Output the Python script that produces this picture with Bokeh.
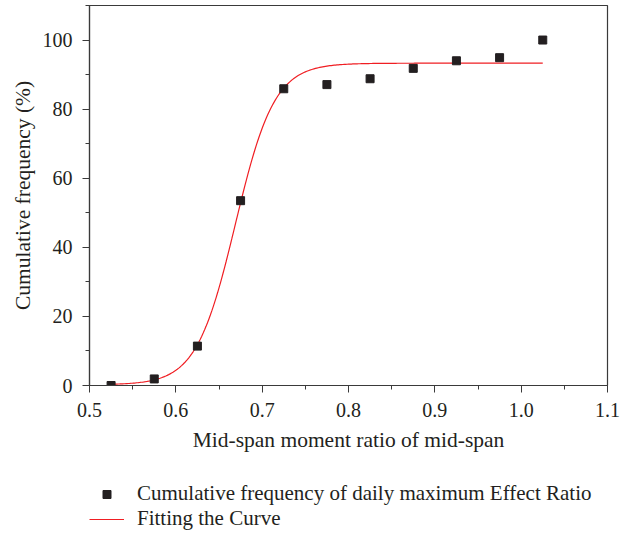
import numpy as np
from bokeh.plotting import figure
from bokeh.layouts import column
from bokeh.models import Range1d, Legend, LegendItem, FixedTicker, PrintfTickFormatter
from bokeh.embed import file_html
from bokeh.resources import INLINE

# Data
ratio_x = [0.525, 0.575, 0.625, 0.675, 0.725, 0.775, 0.825, 0.875, 0.925, 0.975, 1.025]
cum_freq = [0.0, 1.9, 11.4, 53.5, 85.9, 87.1, 88.8, 91.8, 94.0, 94.9, 100.0]

# Boltzmann fit parameters (estimated from the drawn fitting curve)
fit_A1 = 0.2
fit_A2 = 93.3
fit_x0 = 0.669
fit_dx = 0.0226
fit_start = 0.525
fit_end = 1.025

x_ticks = [0.5, 0.6, 0.7, 0.8, 0.9, 1.0, 1.1]
x_minor = [0.55, 0.65, 0.75, 0.85, 0.95, 1.05]
y_ticks = [0, 20, 40, 60, 80, 100]
y_minor = [10, 30, 50, 70, 90, 110]

series_labels = ["Cumulative frequency of daily maximum Effect Ratio", "Fitting the Curve"]

fx = np.linspace(fit_start, fit_end, 301)
fy = fit_A2 + (fit_A1 - fit_A2) / (1 + np.exp((fx - fit_x0) / fit_dx))

FONT = "Liberation Serif"
TXT = "#231f20"
AX = "#3a3a3a"
RED = "#f01e23"

p = figure(width=630, height=470, output_backend="svg", toolbar_location=None,
           x_range=Range1d(0.5, 1.1), y_range=Range1d(0, 110),
           min_border_left=89, min_border_right=23, min_border_top=5, min_border_bottom=85)

p.grid.visible = False
p.outline_line_color = AX
p.outline_line_width = 1.2
p.background_fill_color = "white"
p.border_fill_color = "white"

p.xaxis.ticker = FixedTicker(ticks=x_ticks, minor_ticks=x_minor)
p.yaxis.ticker = FixedTicker(ticks=y_ticks, minor_ticks=y_minor)
p.xaxis.formatter = PrintfTickFormatter(format="%.1f")
p.xaxis.axis_label = "Mid-span moment ratio of mid-span"
p.yaxis.axis_label = "Cumulative frequency (%)"

for ax in (p.xaxis, p.yaxis):
    ax.axis_line_color = AX
    ax.axis_line_width = 1.2
    ax.major_tick_line_color = AX
    ax.minor_tick_line_color = AX
    ax.major_tick_out = 7
    ax.major_tick_in = 0
    ax.minor_tick_out = 4
    ax.minor_tick_in = 0
    ax.major_label_text_font = FONT
    ax.major_label_text_font_size = "20px"
    ax.major_label_text_color = TXT
    ax.axis_label_text_font = FONT
    ax.axis_label_text_font_size = "21.5px"
    ax.axis_label_text_font_style = "normal"
    ax.axis_label_text_color = TXT

p.xaxis.major_label_standoff = 10
p.xaxis.axis_label_standoff = 8
p.yaxis.major_label_standoff = 10
p.yaxis.axis_label_standoff = 5

p.line(fx, fy, line_color=RED, line_width=1.2)
p.scatter(ratio_x, cum_freq, marker="square", size=8,
          fill_color=TXT, line_color=TXT)

# Legend panel below the chart (its frame is aligned with the chart's frame)
pl = figure(width=630, height=63, output_backend="svg", toolbar_location=None,
            x_range=Range1d(0, 1), y_range=Range1d(0, 1),
            x_axis_location=None, y_axis_location=None, min_border=0)
pl.grid.visible = False
pl.outline_line_color = None
pl.border_fill_color = "white"
# legend-only renderers, their single point lies outside the visible range
lg_sq = pl.scatter(x=[-5], y=[-5], marker="square", size=8, fill_color=TXT, line_color=TXT)
lg_ln = pl.line(x=[-6, -5], y=[-6, -5], line_color=RED, line_width=1.2)

legend = Legend(items=[
    LegendItem(label=series_labels[0], renderers=[lg_sq]),
    LegendItem(label=series_labels[1], renderers=[lg_ln]),
], location=(0, 2))
legend.border_line_color = None
legend.background_fill_alpha = 0
legend.padding = 0
legend.margin = 0
legend.spacing = 0
legend.glyph_width = 35
legend.glyph_height = 20
legend.label_height = 20
legend.label_standoff = 13
legend.label_text_font = FONT
legend.label_text_font_size = "21px"
legend.label_text_color = TXT
pl.add_layout(legend, "center")

layout = column(p, pl, spacing=0)
open("out.html", "w").write(file_html(layout, INLINE))
